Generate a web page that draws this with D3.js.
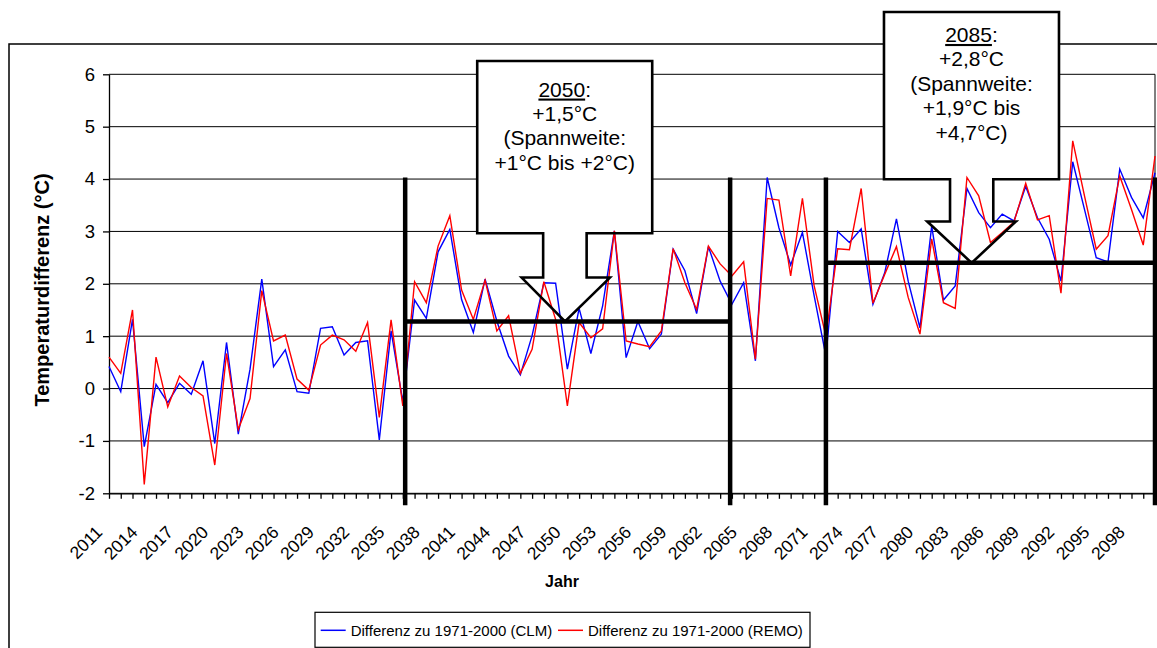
<!DOCTYPE html>
<html><head><meta charset="utf-8">
<script src="https://cdn.jsdelivr.net/npm/d3@7"></script>
<style>
body{margin:0;background:#fff;}
svg{display:block;font-family:Arial,"Liberation Sans",sans-serif;}
</style>
</head><body>
<svg id="chart" width="1157" height="648"></svg>
<script>
// ---------- data ----------
const years = d3.range(2011, 2101);
const clm = [0.42,-0.06,1.32,-1.11,0.08,-0.27,0.10,-0.11,0.53,-1.05,0.88,-0.87,0.37,2.09,0.42,0.74,-0.06,-0.09,1.15,1.18,0.64,0.88,0.91,-0.98,1.10,-0.25,
  1.69,1.34,2.61,3.04,1.70,1.07,2.09,1.29,0.62,0.26,1.01,2.02,2.01,0.37,1.53,0.67,1.58,3.01,0.59,1.28,0.76,1.04,2.66,2.25,1.43,2.71,2.05,1.61,2.02,
  0.53,4.03,3.07,2.36,2.98,1.77,0.62,3.00,2.79,3.05,1.61,2.21,3.24,2.05,1.16,3.10,1.69,1.96,3.82,3.36,3.07,3.33,3.20,3.86,3.26,2.85,2.05,4.33,3.42,2.50,2.42,4.19,3.65,3.26,4.12];
const remo = [0.60,0.29,1.50,-1.83,0.60,-0.35,0.24,0.02,-0.14,-1.46,0.67,-0.78,-0.19,1.87,0.91,1.02,0.18,-0.03,0.83,1.02,0.93,0.71,1.26,-0.55,1.31,-0.33,
  2.04,1.64,2.72,3.30,1.88,1.32,2.07,1.10,1.39,0.29,0.75,2.04,1.32,-0.33,1.26,0.97,1.14,3.01,0.91,0.85,0.80,1.10,2.67,2.02,1.51,2.72,2.38,2.15,2.42,
  0.56,3.63,3.60,2.15,3.63,1.96,1.00,2.67,2.65,3.82,1.63,2.18,2.71,1.74,1.04,2.86,1.64,1.53,4.03,3.68,2.79,2.98,3.18,3.92,3.22,3.30,1.82,4.73,3.68,2.66,2.92,4.06,3.42,2.74,4.44];
const yTicks = [-2,-1,0,1,2,3,4,5,6];
const xTickLabels = years.filter((d, i) => i % 3 === 0);
const seriesNames = ["Differenz zu 1971-2000 (CLM)", "Differenz zu 1971-2000 (REMO)"];
const seriesColors = ["#0000ff", "#ff0000"];
const yTitle = "Temperaturdifferenz (°C)";
const xTitle = "Jahr";
// period markers (years, °C)
const periodFrom = [2036.2, 2072.0];
const periodTo = [2063.85, 2100];
const periodMean = [1.28, 2.40];
const periodBarTop = 4.03, periodBarBottom = -2.23;
// callouts (in data units)
const calloutYear = ["2050", "2085"];
const calloutLines = [
  ["+1,5°C", "(Spannweite:", "+1°C bis +2°C)"],
  ["+2,8°C", "(Spannweite:", "+1,9°C bis", "+4,7°C)"]
];
const calloutBox = [ // left, right, top, bottom
  [2042.33, 2057.22, 6.255, 2.965],
  [2076.94, 2091.83, 7.19, 3.996]
];
const calloutArrow = [ // stemL, stemR, stemBottom, wingL, wingR, tipX
  [2047.94, 2051.64, 2.119, 2046.11, 2053.62, 2049.80],
  [2082.56, 2086.24, 3.19, 2080.62, 2088.17, 2084.40]
];
const calloutFirstBaseline = [35.6, 30.0];

// ---------- layout ----------
const FONT = "Arial, 'Liberation Sans', sans-serif";
const svg = d3.select("#chart");
const x = d3.scaleLinear().domain([2011, 2100]).range([109, 1155]);
const y = d3.scaleLinear().domain([-2, 6]).range([493.3, 74.3]);

// outer chart border
svg.append("rect").attr("x", 9).attr("y", 44).attr("width", 1200).attr("height", 700)
  .attr("fill", "#fff").attr("stroke", "#000").attr("stroke-width", 1.5);

// gridlines
svg.append("g").selectAll("line").data(yTicks).join("line")
  .attr("x1", x(2011)).attr("x2", x(2100))
  .attr("y1", d => y(d)).attr("y2", d => y(d))
  .attr("stroke", "#000").attr("stroke-width", 1);
// right border of plot
svg.append("line").attr("x1", x(2100)).attr("x2", x(2100)).attr("y1", y(6)).attr("y2", y(-2))
  .attr("stroke", "#000").attr("stroke-width", 1);

// axes
const gy = svg.append("g").attr("transform", `translate(${x(2011)},0)`)
  .call(d3.axisLeft(y).tickValues(yTicks).tickSize(6).tickSizeOuter(0).tickPadding(8).tickFormat(d => String(d)));
gy.attr("font-size", null).attr("font-family", null);
gy.selectAll("text").attr("font-size", 18.5).attr("fill", "#000").attr("font-family", FONT);
gy.selectAll("line,path").attr("stroke", "#000").attr("stroke-width", 1.3);

const gx = svg.append("g").attr("transform", `translate(0,${y(-2)})`)
  .call(d3.axisBottom(x).tickValues(years).tickSize(5.5).tickSizeOuter(0)
    .tickFormat(d => xTickLabels.includes(d) ? String(d) : ""));
gx.attr("font-size", null).attr("font-family", null);
gx.selectAll("line,path").attr("stroke", "#000").attr("stroke-width", 1.3);
gx.selectAll("text").attr("font-size", 17.5).attr("fill", "#000")
  .attr("font-family", FONT)
  .attr("x", 0).attr("y", 0).attr("dy", 0).attr("text-anchor", "end")
  .attr("transform", "translate(-6,40) rotate(-45)");

// axis titles
svg.append("text").attr("transform", `translate(48.5,290) rotate(-90)`)
  .attr("text-anchor", "middle").attr("font-weight", "bold").attr("font-size", 20).text(yTitle);
svg.append("text").attr("x", 562).attr("y", 587).attr("text-anchor", "middle")
  .attr("font-weight", "bold").attr("font-size", 16).text(xTitle);

// callout path builder
function calloutPath(i) {
  const [l, r, t, b] = calloutBox[i];
  const [sl, sr, sb, wl, wr, tx] = calloutArrow[i];
  const tip = periodMean[i];
  const p = d3.path();
  p.moveTo(x(l), y(t)); p.lineTo(x(r), y(t)); p.lineTo(x(r), y(b));
  p.lineTo(x(sr), y(b)); p.lineTo(x(sr), y(sb)); p.lineTo(x(wr), y(sb));
  p.lineTo(x(tx), y(tip)); p.lineTo(x(wl), y(sb)); p.lineTo(x(sl), y(sb));
  p.lineTo(x(sl), y(b)); p.lineTo(x(l), y(b)); p.closePath();
  return p.toString();
}
// callout fills (below the data lines)
svg.append("g").selectAll("path").data([0, 1]).join("path")
  .attr("d", i => calloutPath(i)).attr("fill", "#fff").attr("stroke", "none");

// data lines
const line = d3.line().x((d, i) => x(years[i])).y(d => y(d));
svg.append("g").selectAll("path").data([clm, remo]).join("path")
  .attr("d", d => line(d)).attr("fill", "none")
  .attr("stroke", (d, i) => seriesColors[i]).attr("stroke-width", 1.4)
  .attr("stroke-linejoin", "miter");

// period bars
const pg = svg.append("g").attr("stroke", "#000").attr("stroke-width", 4.5);
pg.selectAll("line.v").data([...periodFrom, ...periodTo]).join("line").attr("class", "v")
  .attr("x1", d => x(d)).attr("x2", d => x(d)).attr("y1", y(periodBarTop)).attr("y2", y(periodBarBottom));
pg.selectAll("line.h").data(periodMean).join("line").attr("class", "h")
  .attr("x1", (d, i) => x(periodFrom[i])).attr("x2", (d, i) => x(periodTo[i]))
  .attr("y1", d => y(d)).attr("y2", d => y(d));

// callout outlines + text
const cg = svg.append("g");
cg.selectAll("path").data([0, 1]).join("path")
  .attr("d", i => calloutPath(i)).attr("fill", "none").attr("stroke", "#000")
  .attr("stroke-width", 2.6).attr("stroke-linejoin", "miter");
[0, 1].forEach(i => {
  const [l, r, t] = calloutBox[i];
  const cx = (x(l) + x(r)) / 2;
  const t0 = y(t) + calloutFirstBaseline[i];
  const txt = cg.append("text").attr("text-anchor", "middle").attr("font-size", 21).attr("fill", "#000");
  const first = txt.append("tspan").attr("x", cx).attr("y", t0);
  first.append("tspan").attr("text-decoration", "underline").text(calloutYear[i]);
  first.append("tspan").text(":");
  calloutLines[i].forEach((s, k) => {
    txt.append("tspan").attr("x", cx).attr("y", t0 + 24.4 * (k + 1)).text(s);
  });
});

// legend
const lg = svg.append("g");
lg.append("rect").attr("x", 315).attr("y", 612.3).attr("width", 495).attr("height", 35)
  .attr("fill", "#fff").attr("stroke", "#000").attr("stroke-width", 1.2);
const legX = [320.7, 558];
seriesNames.forEach((n, i) => {
  lg.append("line").attr("x1", legX[i]).attr("x2", legX[i] + 25).attr("y1", 630.3).attr("y2", 630.3)
    .attr("stroke", seriesColors[i]).attr("stroke-width", 1.5);
  lg.append("text").attr("x", legX[i] + 30).attr("y", 636).attr("font-size", 15).attr("fill", "#000").text(n);
});
</script>
</body></html>
